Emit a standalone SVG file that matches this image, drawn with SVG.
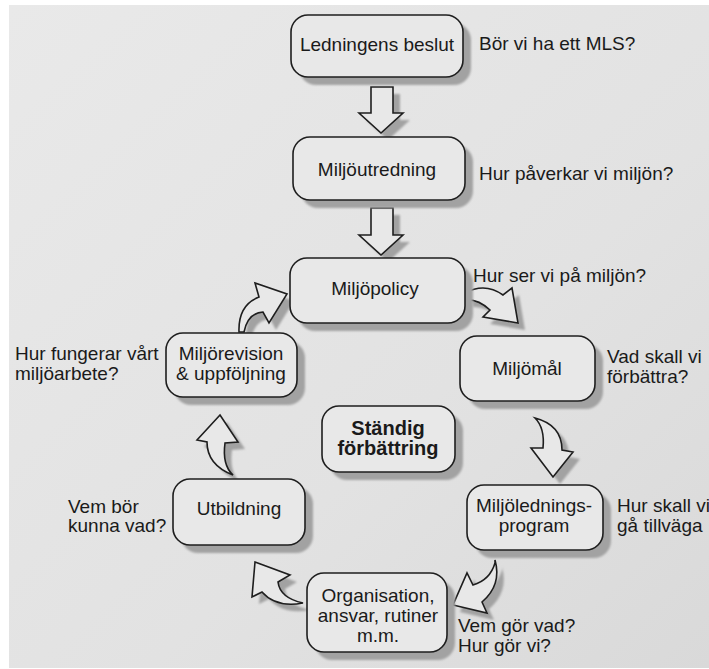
<svg xmlns="http://www.w3.org/2000/svg" width="709" height="669" viewBox="0 0 709 669">
  <defs>
    <linearGradient id="page" x1="0" y1="0" x2="1" y2="1">
      <stop offset="0" stop-color="#e9e9e9"/>
      <stop offset="0.6" stop-color="#e2e2e2"/>
      <stop offset="1" stop-color="#d9d9d9"/>
    </linearGradient>
    <filter id="soft" x="-10%" y="-10%" width="120%" height="120%">
      <feGaussianBlur stdDeviation="1.2"/>
    </filter>
  </defs>
  <style>
    .box { fill: #e8e8e8; stroke: #1e1e1e; stroke-width: 1.6; }
    .shadow { fill: #a2a2a2; stroke: none; }
    .arrow { fill: #e8e8e8; stroke: #1e1e1e; stroke-width: 1.6; stroke-linejoin: miter; }
    text { font-family: "Liberation Sans", Arial, sans-serif; font-size: 19px; fill: #1a1a1a; }
    .c { text-anchor: middle; }
    .b { font-weight: bold; font-size: 20px; }
  </style>

  <rect x="0" y="0" width="709" height="669" fill="#ffffff"/>
  <rect x="9" y="5" width="700" height="663" fill="url(#page)"/>

  <!-- connectors -->
  <g id="connectors">
    <g class="shadow" filter="url(#soft)" transform="translate(7,7)">
      <path d="M371,87 H393 V113 H403 L381,133 L359,113 H371 Z"/>
      <path d="M371,208 H393 V235 H403 L381,255 L359,235 H371 Z"/>
      <path d="M465,293 Q485,282 503,295 L512,288 L518,323 L483,317 L490,310 Q478,299 466,300 Z"/>
      <path d="M535,418 Q545,428 543,448 L531,448 L553,477 L573,452 L562,450 Q562,425 535,418 Z"/>
      <path d="M495,560 Q502,585 482,602 L487,613 L453,605 L467,573 L473,585 Q490,580 495,563 Z"/>
      <path d="M255,562 L290,575 L278,582 Q280,598 303,603 Q276,608 262,592 L252,597 Z"/>
      <path d="M220,415 L238,442 L225,443 Q222,465 233,475 Q207,465 207,442 L197,440 Z"/>
      <path d="M239,332 Q238,305 259,297 L255,283 L287,294 L269,323 L263,312 Q248,313 244,332 Z"/>
    </g>
    <path class="arrow" d="M371,87 H393 V113 H403 L381,133 L359,113 H371 Z"/>
    <path class="arrow" d="M371,208 H393 V235 H403 L381,255 L359,235 H371 Z"/>
    <path class="arrow" d="M465,293 Q485,282 503,295 L512,288 L518,323 L483,317 L490,310 Q478,299 466,300 Z"/>
    <path class="arrow" d="M535,418 Q545,428 543,448 L531,448 L553,477 L573,452 L562,450 Q562,425 535,418 Z"/>
    <path class="arrow" d="M495,560 Q502,585 482,602 L487,613 L453,605 L467,573 L473,585 Q490,580 495,563 Z"/>
    <path class="arrow" d="M255,562 L290,575 L278,582 Q280,598 303,603 Q276,608 262,592 L252,597 Z"/>
    <path class="arrow" d="M220,415 L238,442 L225,443 Q222,465 233,475 Q207,465 207,442 L197,440 Z"/>
    <path class="arrow" d="M239,332 Q238,305 259,297 L255,283 L287,294 L269,323 L263,312 Q248,313 244,332 Z"/>
  </g>

  <g id="ledningens-beslut">
    <rect class="shadow" filter="url(#soft)" x="299" y="23" width="172" height="62" rx="17"/>
    <rect class="box" x="291" y="15" width="172" height="62" rx="17"/>
    <text class="c" x="377" y="51">Ledningens beslut</text>
  </g>
  <g id="miljoutredning">
    <rect class="shadow" filter="url(#soft)" x="301" y="145" width="172" height="63" rx="17"/>
    <rect class="box" x="293" y="137" width="172" height="63" rx="17"/>
    <text class="c" x="377" y="176">Miljöutredning</text>
  </g>
  <g id="miljopolicy">
    <rect class="shadow" filter="url(#soft)" x="298" y="266" width="175" height="65" rx="17"/>
    <rect class="box" x="290" y="258" width="175" height="65" rx="17"/>
    <text class="c" x="375" y="295">Miljöpolicy</text>
  </g>
  <g id="miljomal">
    <rect class="shadow" filter="url(#soft)" x="468" y="344" width="135" height="65" rx="17"/>
    <rect class="box" x="460" y="336" width="135" height="65" rx="17"/>
    <text class="c" x="527" y="375">Miljömål</text>
  </g>
  <g id="standig-forbattring">
    <rect class="shadow" filter="url(#soft)" x="330" y="414" width="133" height="66" rx="17"/>
    <rect class="box" x="322" y="406" width="133" height="66" rx="17"/>
    <text class="c b" x="388" y="435">Ständig</text>
    <text class="c b" x="388" y="455">förbättring</text>
  </g>
  <g id="miljoledningsprogram">
    <rect class="shadow" filter="url(#soft)" x="475" y="493" width="136" height="65" rx="17"/>
    <rect class="box" x="467" y="485" width="136" height="65" rx="17"/>
    <text class="c" x="534" y="512">Miljölednings-</text>
    <text class="c" x="534" y="532">program</text>
  </g>
  <g id="organisation">
    <rect class="shadow" filter="url(#soft)" x="315" y="581" width="140" height="79" rx="17"/>
    <rect class="box" x="307" y="573" width="140" height="79" rx="17"/>
    <text class="c" x="378" y="602">Organisation,</text>
    <text class="c" x="378" y="622">ansvar, rutiner</text>
    <text class="c" x="378" y="642">m.m.</text>
  </g>
  <g id="utbildning">
    <rect class="shadow" filter="url(#soft)" x="181" y="487" width="132" height="66" rx="17"/>
    <rect class="box" x="173" y="479" width="132" height="66" rx="17"/>
    <text class="c" x="239" y="515">Utbildning</text>
  </g>
  <g id="miljorevision">
    <rect class="shadow" filter="url(#soft)" x="174" y="341" width="131" height="64" rx="17"/>
    <rect class="box" x="166" y="333" width="131" height="64" rx="17"/>
    <text class="c" x="231" y="360">Miljörevision</text>
    <text class="c" x="231" y="380">&amp; uppföljning</text>
  </g>

  <g id="questions">
    <text x="479" y="50">Bör vi ha ett MLS?</text>
    <text x="479" y="180">Hur påverkar vi miljön?</text>
    <text x="473" y="282">Hur ser vi på miljön?</text>
    <text x="607" y="363">Vad skall vi</text>
    <text x="607" y="383">förbättra?</text>
    <text x="617" y="512">Hur skall vi</text>
    <text x="617" y="532">gå tillväga</text>
    <text x="458" y="632">Vem gör vad?</text>
    <text x="458" y="652">Hur gör vi?</text>
    <text x="68" y="513">Vem bör</text>
    <text x="68" y="532">kunna vad?</text>
    <text x="15" y="360">Hur fungerar vårt</text>
    <text x="15" y="380">miljöarbete?</text>
  </g>
</svg>
